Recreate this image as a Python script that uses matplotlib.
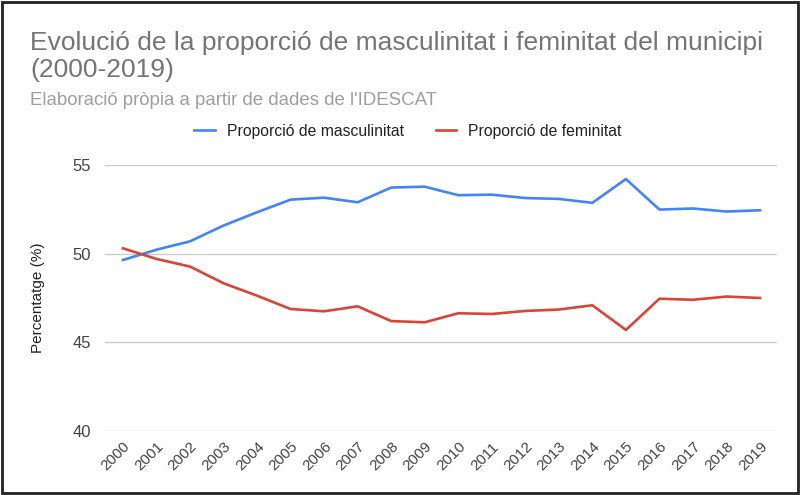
import numpy as np
import matplotlib
matplotlib.use("Agg")
import matplotlib.pyplot as plt
from matplotlib.patches import Rectangle

plt.rcParams["font.family"] = ["Liberation Sans", "DejaVu Sans"]

years = [str(y) for y in range(2000, 2020)]
masculinitat = [49.64, 50.22, 50.69, 51.58, 52.33, 53.04, 53.15, 52.89, 53.72, 53.77,
                53.29, 53.32, 53.13, 53.08, 52.86, 54.20, 52.48, 52.54, 52.37, 52.44]
feminitat = [50.30, 49.70, 49.27, 48.33, 47.63, 46.88, 46.75, 47.03, 46.20, 46.13,
             46.64, 46.60, 46.77, 46.85, 47.09, 45.70, 47.46, 47.40, 47.58, 47.50]
y_ticks = [40, 45, 50, 55]

fig = plt.figure(figsize=(8.0, 4.95), dpi=100)
ax = fig.add_axes([0.131, 0.129, 0.84, 0.538])

x = np.arange(len(years))
ax.plot(x, masculinitat, color="#4285F4", linewidth=1.9, label="Proporció de masculinitat")
ax.plot(x, feminitat, color="#DB4437", linewidth=1.9, label="Proporció de feminitat")

ax.set_xlim(-0.54, 19.5)
ax.set_ylim(40, 55)
ax.set_yticks(y_ticks)
ax.set_xticks(x)
ax.set_xticklabels(years, rotation=45, ha="right", rotation_mode="anchor")
ax.tick_params(axis="both", length=0, colors="#444444", labelsize=12)
ax.tick_params(axis="x", pad=6, labelsize=11)
ax.tick_params(axis="y", pad=10)
ax.grid(axis="y", color="#cccccc", linewidth=1.0)
ax.set_axisbelow(True)
for s in ax.spines.values():
    s.set_visible(False)
ax.set_ylabel("Percentatge (%)", fontsize=11, color="#222222", labelpad=20)

fig.text(0.0375, 0.938, "Evolució de la proporció de masculinitat i feminitat del municipi\n(2000-2019)",
         fontsize=19, color="#757575", va="top", ha="left", linespacing=1.17)
fig.text(0.0375, 0.797, "Elaboració pròpia a partir de dades de l'IDESCAT",
         fontsize=13.4, color="#9e9e9e", va="center", ha="left")

fig.legend(loc="center", bbox_to_anchor=(0.51, 0.735), ncol=2, frameon=False,
           fontsize=11.3, handlelength=1.3, columnspacing=2.0, labelcolor="#222222")

fig.patches.append(Rectangle((0.002, 0.004), 0.996, 0.992, transform=fig.transFigure,
                             fill=False, edgecolor="#222222", linewidth=2.0))

fig.savefig("out.png", dpi=100)
